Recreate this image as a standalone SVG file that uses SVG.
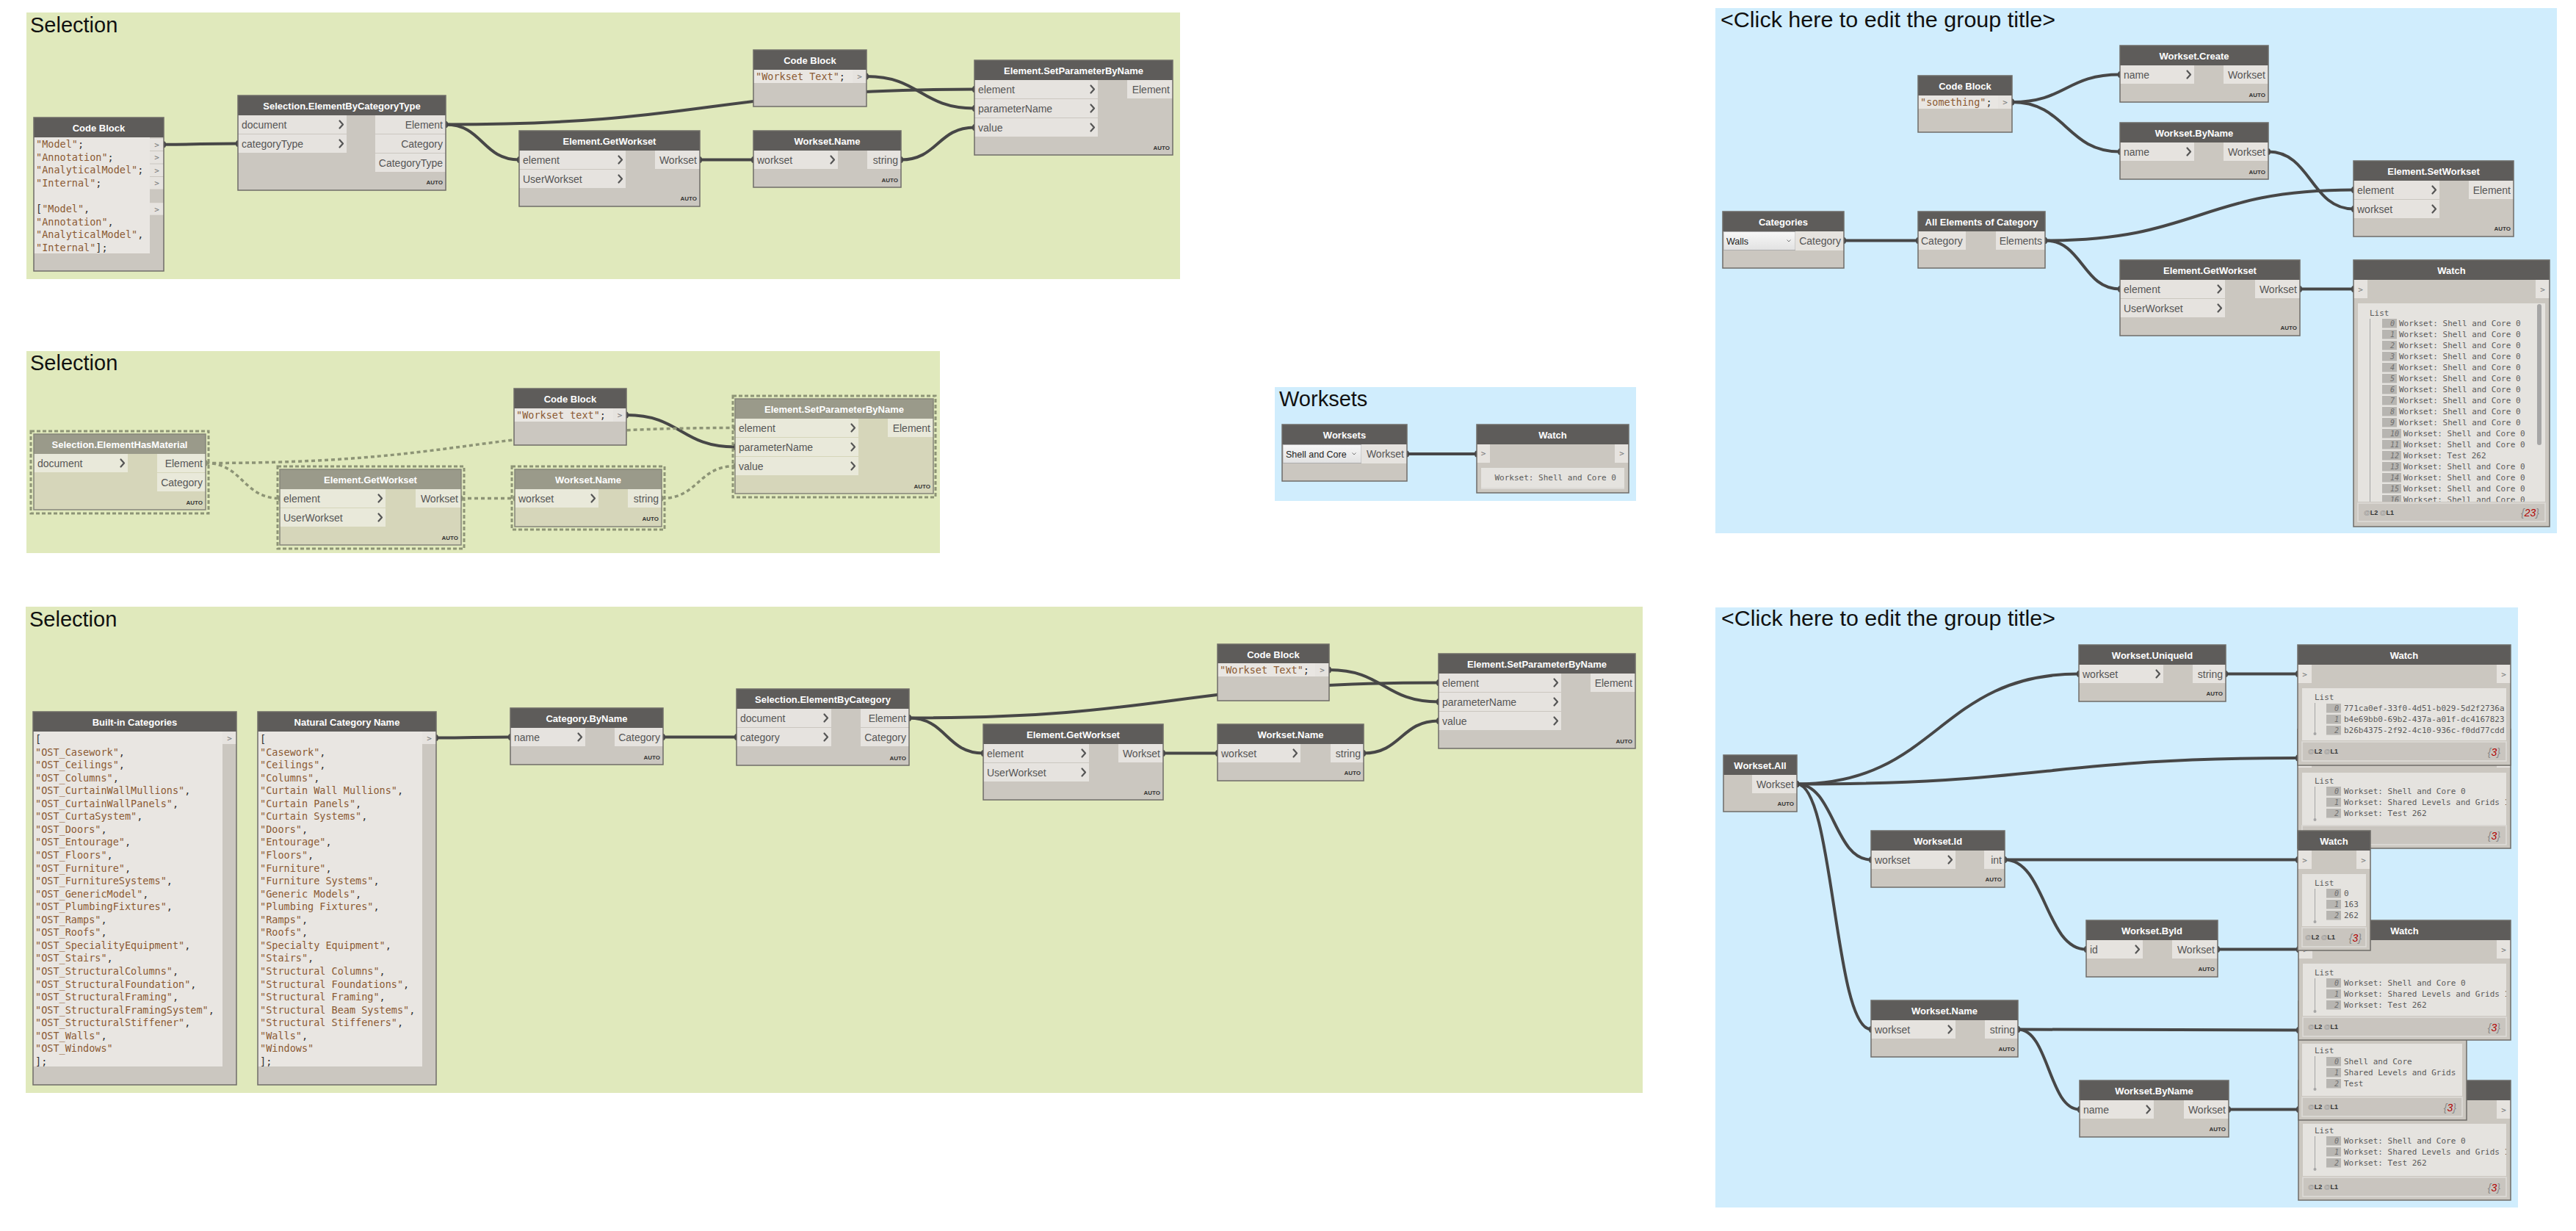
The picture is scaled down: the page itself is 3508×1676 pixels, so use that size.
<svg xmlns="http://www.w3.org/2000/svg" width="3508" height="1676" viewBox="0 0 3508 1676">
<defs>
<style>
.grpG{fill:#e0e9bc}
.grpB{fill:#d0edfd}
.gt{font-family:"Liberation Sans",Arial,sans-serif;font-size:29px;fill:#111}
.nb{fill:#cbc7c0}
.nh{fill:#5e5c5a}
.no{fill:none;stroke:#6f6c68;stroke-width:1.5}
.pc{fill:#e6e3df}
.ca{fill:#e9e6e2}
.gnb{fill:#d6d6ba}
.gnh{fill:#9a9a8a}
.gpc{fill:#e9e9da}
.gno{fill:none;stroke:#85857a;stroke-width:1.5}
.sel{fill:none;stroke:#8d9476;stroke-width:3;stroke-dasharray:5 3}
.tt{font-family:"Liberation Sans",Arial,sans-serif;font-size:13px;font-weight:bold;fill:#fff;text-anchor:middle}
.pl{font-family:"Liberation Sans",Arial,sans-serif;font-size:14px;fill:#555}
.pr{font-family:"Liberation Sans",Arial,sans-serif;font-size:14px;fill:#555;text-anchor:end}
.au{font-family:"Liberation Sans",Arial,sans-serif;font-size:8px;font-weight:bold;fill:#333;text-anchor:end}
.chev{fill:none;stroke:#555;stroke-width:2.2;stroke-linejoin:round;stroke-linecap:round}
.dch{fill:none;stroke:#777;stroke-width:1}
.cd{font-family:"DejaVu Sans Mono","Liberation Mono",monospace;font-size:13.5px;fill:#333}
.s{fill:#8b5a33}
.gtl{font-family:"DejaVu Sans Mono","Liberation Mono",monospace;font-size:11px;fill:#777;text-anchor:middle}
.w{fill:none;stroke:#474747;stroke-width:4;marker-start:url(#pe);marker-end:url(#pe)}
.wd{fill:none;stroke:#8d9476;stroke-width:3.5;stroke-dasharray:5 4;marker-start:url(#pd);marker-end:url(#pd)}
.wv{font-family:"DejaVu Sans Mono","Liberation Mono",monospace;font-size:11px;fill:#5a5a5a}
.ib{fill:#b7b5b1}
.ix{font-family:"DejaVu Sans Mono","Liberation Mono",monospace;font-size:10px;font-style:italic;fill:#6f6f6f;text-anchor:end}
.wc{fill:#e5e3df}
.ft{fill:#c9c5bf;stroke:#dedcd8;stroke-width:1.5}
.lt{stroke:#a5a5a5;stroke-width:1}
.lv{font-family:"Liberation Sans",Arial,sans-serif;font-size:9px;font-weight:bold;fill:#333}
.cnt{font-family:"Liberation Sans",Arial,sans-serif;font-size:14px;font-style:italic;fill:#888;text-anchor:end}
.red{fill:#b00000}
.at{fill:#9a9a9a}
.dd{fill:url(#ddg);stroke:#adadad;stroke-width:1}
.ddt{font-family:"Liberation Sans",Arial,sans-serif;font-size:12.5px;fill:#222}
</style>
<linearGradient id="ddg" x1="0" y1="0" x2="0" y2="1"><stop offset="0" stop-color="#f7f7f7"/><stop offset="1" stop-color="#e2e2e2"/></linearGradient>
<marker id="pe" viewBox="-5 -5 10 10" refX="0" refY="0" markerWidth="10" markerHeight="10" markerUnits="userSpaceOnUse" orient="0"><ellipse rx="3" ry="4.5" fill="#474747"/></marker>
<marker id="pd" viewBox="-5 -5 10 10" refX="0" refY="0" markerWidth="10" markerHeight="10" markerUnits="userSpaceOnUse" orient="0"><ellipse rx="2.5" ry="4" fill="#8d9476"/></marker>
<clipPath id="cTR"><rect x="3211" y="413" width="255" height="270"/></clipPath>
<clipPath id="c1"><rect x="3135" y="937" width="278" height="71"/></clipPath>
<clipPath id="c2"><rect x="3135" y="1052" width="278" height="71"/></clipPath>
<clipPath id="c4"><rect x="3136" y="1312" width="277" height="71"/></clipPath>
<clipPath id="c6"><rect x="3136" y="1530" width="277" height="71"/></clipPath>
</defs>

<g id="groups">
<rect class="grpG" x="36" y="17" width="1571" height="363"/>
<text class="gt" x="41" y="44">Selection</text>
<rect class="grpG" x="36" y="478" width="1244" height="275"/>
<text class="gt" x="41" y="504">Selection</text>
<rect class="grpB" x="1736" y="527" width="492" height="155"/>
<text class="gt" x="1742" y="553">Worksets</text>
<rect class="grpB" x="2336" y="11" width="1146" height="715"/>
<text class="gt" x="2343" y="37" font-size="30" textLength="456" lengthAdjust="spacingAndGlyphs">&lt;Click here to edit the group title&gt;</text>
<rect class="grpG" x="35" y="826" width="2202" height="662"/>
<text class="gt" x="40" y="853">Selection</text>
<rect class="grpB" x="2336" y="827" width="1093" height="817"/>
<text class="gt" x="2344" y="852" font-size="30" textLength="455" lengthAdjust="spacingAndGlyphs">&lt;Click here to edit the group title&gt;</text>
</g>

<g id="connectors">
<path class="w" d="M223 196.7 C273.5 196.7 273.5 195.5 324 195.5"/>
<path class="w" d="M607 169.5 C967 169.5 967 121.5 1327 121.5"/>
<path class="w" d="M607 169.5 C657 169.5 657 217.5 707 217.5"/>
<path class="w" d="M1180 104 C1253.5 104 1253.5 147.5 1327 147.5"/>
<path class="w" d="M953 217.5 L1026 217.5"/>
<path class="w" d="M1227 217.5 C1277 217.5 1277 173.5 1327 173.5"/>

<path class="w" d="M853 565 C927 565 927 608.5 1001 608.5"/>
<path class="wd" d="M280 630.5 C640.5 630.5 640.5 582.5 1001 582.5"/>
<path class="wd" d="M280 630.5 C330.5 630.5 330.5 678.5 381 678.5"/>
<path class="wd" d="M628 678.5 L701 678.5"/>
<path class="wd" d="M901 678.5 C951 678.5 951 634.5 1001 634.5"/>

<path class="w" d="M1916 618 L2011 618"/>

<path class="w" d="M2740 139 C2813.5 139 2813.5 101.5 2887 101.5"/>
<path class="w" d="M2740 139 C2813.5 139 2813.5 206.5 2887 206.5"/>
<path class="w" d="M3089 206.5 C3147 206.5 3147 284.5 3205 284.5"/>
<path class="w" d="M2511 327.5 L2612 327.5"/>
<path class="w" d="M2785 327.5 C2995 327.5 2995 258.5 3205 258.5"/>
<path class="w" d="M2785 327.5 C2836 327.5 2836 393.5 2887 393.5"/>
<path class="w" d="M3132 393.5 L3205 393.5"/>

<path class="w" d="M594 1004.5 C644.5 1004.5 644.5 1003.5 695 1003.5"/>
<path class="w" d="M903 1003.5 L1003 1003.5"/>
<path class="w" d="M1238 977.5 C1598.5 977.5 1598.5 929.5 1959 929.5"/>
<path class="w" d="M1238 977.5 C1288.5 977.5 1288.5 1025.5 1339 1025.5"/>
<path class="w" d="M1810 912 C1884.5 912 1884.5 955.5 1959 955.5"/>
<path class="w" d="M1584 1025.5 L1658 1025.5"/>
<path class="w" d="M1857 1025.5 C1908 1025.5 1908 981.5 1959 981.5"/>

<path class="w" d="M2447 1067.5 C2639 1067.5 2639 917.5 2831 917.5"/>
<path class="w" d="M2447 1067.5 C2788 1067.5 2788 1032 3129 1032"/>
<path class="w" d="M2447 1067.5 C2497.5 1067.5 2497.5 1170.5 2548 1170.5"/>
<path class="w" d="M2447 1067.5 C2497.5 1067.5 2497.5 1401.5 2548 1401.5"/>
<path class="w" d="M3031 917.5 L3129 917.5"/>
<path class="w" d="M2730 1170.5 L3129 1170.5"/>
<path class="w" d="M2730 1170.5 C2785.5 1170.5 2785.5 1292.5 2841 1292.5"/>
<path class="w" d="M3020 1292.5 L3130 1292.5"/>
<path class="w" d="M2748 1401.5 L3130 1402.5"/>
<path class="w" d="M2748 1401.5 C2790 1401.5 2790 1510.5 2832 1510.5"/>
<path class="w" d="M3035 1510.5 L3130 1510.5"/>
</g>

<!-- ===== Group 1 ===== -->
<g id="g1-codeblock-list">
<rect class="nb" x="46" y="160" width="177" height="209"/>
<rect class="nh" x="46" y="160" width="177" height="27"/>
<text class="tt" x="134.5" y="178.5">Code Block</text>
<rect class="ca" x="46" y="187" width="158" height="158"/>
<rect class="pc" x="204" y="188.5" width="19" height="16.5"/><text class="gtl" x="213.5" y="200.7">&gt;</text>
<rect class="pc" x="204" y="206" width="19" height="16.5"/><text class="gtl" x="213.5" y="218.3">&gt;</text>
<rect class="pc" x="204" y="223.5" width="19" height="16.5"/><text class="gtl" x="213.5" y="235.8">&gt;</text>
<rect class="pc" x="204" y="241" width="19" height="16.5"/><text class="gtl" x="213.5" y="253.4">&gt;</text>
<rect class="pc" x="204" y="276.2" width="19" height="16.5"/><text class="gtl" x="213.5" y="288.5">&gt;</text>
<text class="cd" x="49" y="201.2"><tspan class="s">"Model"</tspan>;</text>
<text class="cd" x="49" y="218.8"><tspan class="s">"Annotation"</tspan>;</text>
<text class="cd" x="49" y="236.3"><tspan class="s">"AnalyticalModel"</tspan>;</text>
<text class="cd" x="49" y="253.9"><tspan class="s">"Internal"</tspan>;</text>
<text class="cd" x="49" y="289">[<tspan class="s">"Model"</tspan>,</text>
<text class="cd" x="49" y="306.5"><tspan class="s">"Annotation"</tspan>,</text>
<text class="cd" x="49" y="324.1"><tspan class="s">"AnalyticalModel"</tspan>,</text>
<text class="cd" x="49" y="341.6"><tspan class="s">"Internal"</tspan>];</text>
<rect class="no" x="46" y="160" width="177" height="209"/>
</g>

<g id="g1-selection-elementbycategorytype">
<rect class="nb" x="324" y="130" width="283" height="129"/>
<rect class="nh" x="324" y="130" width="283" height="27"/>
<text class="tt" x="465.5" y="148.5">Selection.ElementByCategoryType</text>
<rect class="pc" x="324" y="157" width="148" height="25"/><text class="pl" x="329" y="174.5">document</text><path class="chev" d="M462.5 164.5 l4.5 5 l-4.5 5"/>
<rect class="pc" x="324" y="183" width="148" height="25"/><text class="pl" x="329" y="200.5">categoryType</text><path class="chev" d="M462.5 190.5 l4.5 5 l-4.5 5"/>
<rect class="pc" x="511" y="157" width="96" height="25"/><text class="pr" x="603" y="174.5">Element</text>
<rect class="pc" x="511" y="183" width="96" height="25"/><text class="pr" x="603" y="200.5">Category</text>
<rect class="pc" x="511" y="209" width="96" height="25"/><text class="pr" x="603" y="226.5">CategoryType</text>
<text class="au" x="603" y="251">AUTO</text>
<rect class="no" x="324" y="130" width="283" height="129"/>
</g>

<g id="g1-element-getworkset">
<rect class="nb" x="707" y="178" width="246" height="103"/>
<rect class="nh" x="707" y="178" width="246" height="27"/>
<text class="tt" x="830" y="196.5">Element.GetWorkset</text>
<rect class="pc" x="707" y="205" width="145" height="25"/><text class="pl" x="712" y="222.5">element</text><path class="chev" d="M842.5 212.5 l4.5 5 l-4.5 5"/>
<rect class="pc" x="707" y="231" width="145" height="25"/><text class="pl" x="712" y="248.5">UserWorkset</text><path class="chev" d="M842.5 238.5 l4.5 5 l-4.5 5"/>
<rect class="pc" x="892" y="205" width="61" height="25"/><text class="pr" x="949" y="222.5">Workset</text>
<text class="au" x="949" y="273">AUTO</text>
<rect class="no" x="707" y="178" width="246" height="103"/>
</g>

<g id="g1-codeblock-text">
<rect class="nb" x="1026" y="68" width="154" height="77"/>
<rect class="nh" x="1026" y="68" width="154" height="27"/>
<text class="tt" x="1103" y="86.5">Code Block</text>
<rect class="ca" x="1026" y="95" width="135" height="18"/>
<rect class="pc" x="1161" y="95" width="19" height="18"/><text class="gtl" x="1170.5" y="108">&gt;</text>
<text class="cd" x="1029" y="109"><tspan class="s">"Workset Text"</tspan>;</text>
<rect class="no" x="1026" y="68" width="154" height="77"/>
</g>

<g id="g1-workset-name">
<rect class="nb" x="1026" y="178" width="201" height="77"/>
<rect class="nh" x="1026" y="178" width="201" height="27"/>
<text class="tt" x="1126.5" y="196.5">Workset.Name</text>
<rect class="pc" x="1026" y="205" width="115" height="25"/><text class="pl" x="1031" y="222.5">workset</text><path class="chev" d="M1131.5 212.5 l4.5 5 l-4.5 5"/>
<rect class="pc" x="1181" y="205" width="46" height="25"/><text class="pr" x="1223" y="222.5">string</text>
<text class="au" x="1223" y="248">AUTO</text>
<rect class="no" x="1026" y="178" width="201" height="77"/>
</g>

<g id="g1-element-setparameterbyname">
<rect class="nb" x="1327" y="82" width="270" height="129"/>
<rect class="nh" x="1327" y="82" width="270" height="27"/>
<text class="tt" x="1462" y="100.5">Element.SetParameterByName</text>
<rect class="pc" x="1327" y="109" width="168" height="25"/><text class="pl" x="1332" y="126.5">element</text><path class="chev" d="M1485.5 116.5 l4.5 5 l-4.5 5"/>
<rect class="pc" x="1327" y="135" width="168" height="25"/><text class="pl" x="1332" y="152.5">parameterName</text><path class="chev" d="M1485.5 142.5 l4.5 5 l-4.5 5"/>
<rect class="pc" x="1327" y="161" width="168" height="25"/><text class="pl" x="1332" y="178.5">value</text><path class="chev" d="M1485.5 168.5 l4.5 5 l-4.5 5"/>
<rect class="pc" x="1535" y="109" width="62" height="25"/><text class="pr" x="1593" y="126.5">Element</text>
<text class="au" x="1593" y="204">AUTO</text>
<rect class="no" x="1327" y="82" width="270" height="129"/>
</g>

<!-- ===== Group 2 (frozen) ===== -->
<g id="g2-selection-elementhasmaterial">
<rect class="sel" x="42" y="587" width="242" height="112"/>
<rect class="gnb" x="46" y="591" width="234" height="103"/>
<rect class="gnh" x="46" y="591" width="234" height="27"/>
<text class="tt" x="163" y="609.5">Selection.ElementHasMaterial</text>
<rect class="gpc" x="46" y="618" width="128" height="25"/><text class="pl" x="51" y="635.5">document</text><path class="chev" d="M164.5 625.5 l4.5 5 l-4.5 5"/>
<rect class="gpc" x="214" y="618" width="66" height="25"/><text class="pr" x="276" y="635.5">Element</text>
<rect class="gpc" x="214" y="644" width="66" height="25"/><text class="pr" x="276" y="661.5">Category</text>
<text class="au" x="276" y="687">AUTO</text>
<rect class="gno" x="46" y="591" width="234" height="103"/>
</g>

<g id="g2-element-getworkset">
<rect class="sel" x="378" y="635" width="254" height="112"/>
<rect class="gnb" x="381" y="639" width="247" height="103"/>
<rect class="gnh" x="381" y="639" width="247" height="27"/>
<text class="tt" x="504.5" y="657.5">Element.GetWorkset</text>
<rect class="gpc" x="381" y="666" width="144" height="25"/><text class="pl" x="386" y="683.5">element</text><path class="chev" d="M515.5 673.5 l4.5 5 l-4.5 5"/>
<rect class="gpc" x="381" y="692" width="144" height="25"/><text class="pl" x="386" y="709.5">UserWorkset</text><path class="chev" d="M515.5 699.5 l4.5 5 l-4.5 5"/>
<rect class="gpc" x="566" y="666" width="62" height="25"/><text class="pr" x="624" y="683.5">Workset</text>
<text class="au" x="624" y="735">AUTO</text>
<rect class="gno" x="381" y="639" width="247" height="103"/>
</g>

<g id="g2-codeblock-text">
<rect class="nb" x="700" y="529" width="153" height="77"/>
<rect class="nh" x="700" y="529" width="153" height="27"/>
<text class="tt" x="776.5" y="547.5">Code Block</text>
<rect class="ca" x="700" y="556" width="135" height="18"/>
<rect class="pc" x="835" y="556" width="18" height="18"/><text class="gtl" x="844" y="569">&gt;</text>
<text class="cd" x="703" y="570"><tspan class="s">"Workset text"</tspan>;</text>
<rect class="no" x="700" y="529" width="153" height="77"/>
</g>

<g id="g2-workset-name">
<rect class="sel" x="697" y="635" width="208" height="86"/>
<rect class="gnb" x="701" y="639" width="200" height="78"/>
<rect class="gnh" x="701" y="639" width="200" height="27"/>
<text class="tt" x="801" y="657.5">Workset.Name</text>
<rect class="gpc" x="701" y="666" width="114" height="25"/><text class="pl" x="706" y="683.5">workset</text><path class="chev" d="M805.5 673.5 l4.5 5 l-4.5 5"/>
<rect class="gpc" x="855" y="666" width="46" height="25"/><text class="pr" x="897" y="683.5">string</text>
<text class="au" x="897" y="709">AUTO</text>
<rect class="gno" x="701" y="639" width="200" height="78"/>
</g>

<g id="g2-element-setparameterbyname">
<rect class="sel" x="998" y="539" width="276" height="138"/>
<rect class="gnb" x="1001" y="543" width="270" height="129"/>
<rect class="gnh" x="1001" y="543" width="270" height="27"/>
<text class="tt" x="1136" y="561.5">Element.SetParameterByName</text>
<rect class="gpc" x="1001" y="570" width="168" height="25"/><text class="pl" x="1006" y="587.5">element</text><path class="chev" d="M1159.5 577.5 l4.5 5 l-4.5 5"/>
<rect class="gpc" x="1001" y="596" width="168" height="25"/><text class="pl" x="1006" y="613.5">parameterName</text><path class="chev" d="M1159.5 603.5 l4.5 5 l-4.5 5"/>
<rect class="gpc" x="1001" y="622" width="168" height="25"/><text class="pl" x="1006" y="639.5">value</text><path class="chev" d="M1159.5 629.5 l4.5 5 l-4.5 5"/>
<rect class="gpc" x="1209" y="570" width="62" height="25"/><text class="pr" x="1267" y="587.5">Element</text>
<text class="au" x="1267" y="665">AUTO</text>
<rect class="gno" x="1001" y="543" width="270" height="129"/>
</g>

<!-- ===== Worksets group ===== -->
<g id="ws-worksets">
<rect class="nb" x="1746" y="578" width="170" height="77"/>
<rect class="nh" x="1746" y="578" width="170" height="27"/>
<text class="tt" x="1831" y="596.5">Worksets</text>
<rect class="dd" x="1747" y="605.5" width="107" height="25"/>
<text class="ddt" x="1751" y="622.5">Shell and Core</text>
<path class="dch" d="M1841.5 616.5 l2.5 2.5 l2.5 -2.5"/>
<rect class="pc" x="1854" y="605" width="62" height="26"/><text class="pr" x="1912" y="622.5">Workset</text>
<rect class="no" x="1746" y="578" width="170" height="77"/>
</g>

<g id="ws-watch">
<rect class="nb" x="2011" y="578" width="207" height="93"/>
<rect class="nh" x="2011" y="578" width="207" height="27"/>
<text class="tt" x="2114.5" y="596.5">Watch</text>
<rect class="pc" x="2011" y="605" width="18" height="25"/><text class="gtl" x="2020" y="621">&gt;</text>
<rect class="pc" x="2199" y="605" width="19" height="25"/><text class="gtl" x="2208.5" y="621">&gt;</text>
<rect class="wc" x="2017" y="637" width="195" height="27"/>
<rect x="2017" y="664" width="195" height="2" fill="#dcdad6"/>
<text class="wv" x="2201" y="654" text-anchor="end">Workset: Shell and Core 0</text>
<rect class="no" x="2011" y="578" width="207" height="93"/>
</g>

<!-- ===== Top-right group ===== -->
<g id="tr-codeblock">
<rect class="nb" x="2612" y="103" width="128" height="77"/>
<rect class="nh" x="2612" y="103" width="128" height="27"/>
<text class="tt" x="2676" y="121.5">Code Block</text>
<rect class="ca" x="2612" y="130" width="109" height="18"/>
<rect class="pc" x="2721" y="130" width="19" height="18"/><text class="gtl" x="2730.5" y="143">&gt;</text>
<text class="cd" x="2615" y="144"><tspan class="s">"something"</tspan>;</text>
<rect class="no" x="2612" y="103" width="128" height="77"/>
</g>

<g id="tr-workset-create">
<rect class="nb" x="2887" y="62" width="202" height="77"/>
<rect class="nh" x="2887" y="62" width="202" height="27"/>
<text class="tt" x="2988" y="80.5">Workset.Create</text>
<rect class="pc" x="2887" y="89" width="101" height="25"/><text class="pl" x="2892" y="106.5">name</text><path class="chev" d="M2978.5 96.5 l4.5 5 l-4.5 5"/>
<rect class="pc" x="3028" y="89" width="61" height="25"/><text class="pr" x="3085" y="106.5">Workset</text>
<text class="au" x="3085" y="132">AUTO</text>
<rect class="no" x="2887" y="62" width="202" height="77"/>
</g>

<g id="tr-workset-byname">
<rect class="nb" x="2887" y="167" width="202" height="77"/>
<rect class="nh" x="2887" y="167" width="202" height="27"/>
<text class="tt" x="2988" y="185.5">Workset.ByName</text>
<rect class="pc" x="2887" y="194" width="101" height="25"/><text class="pl" x="2892" y="211.5">name</text><path class="chev" d="M2978.5 201.5 l4.5 5 l-4.5 5"/>
<rect class="pc" x="3028" y="194" width="61" height="25"/><text class="pr" x="3085" y="211.5">Workset</text>
<text class="au" x="3085" y="237">AUTO</text>
<rect class="no" x="2887" y="167" width="202" height="77"/>
</g>

<g id="tr-categories">
<rect class="nb" x="2346" y="288" width="165" height="77"/>
<rect class="nh" x="2346" y="288" width="165" height="27"/>
<text class="tt" x="2428.5" y="306.5">Categories</text>
<rect class="dd" x="2347" y="315.5" width="98" height="25"/>
<text class="ddt" x="2351" y="332.5">Walls</text>
<path class="dch" d="M2433.5 326.5 l2.5 2.5 l2.5 -2.5"/>
<rect class="pc" x="2445" y="315" width="66" height="26"/><text class="pr" x="2507" y="332.5">Category</text>
<rect class="no" x="2346" y="288" width="165" height="77"/>
</g>

<g id="tr-all-elements-of-category">
<rect class="nb" x="2612" y="288" width="173" height="77"/>
<rect class="nh" x="2612" y="288" width="173" height="27"/>
<text class="tt" x="2698.5" y="306.5">All Elements of Category</text>
<rect class="pc" x="2612" y="315" width="65" height="25"/><text class="pl" x="2616" y="332.5">Category</text>
<rect class="pc" x="2718" y="315" width="67" height="25"/><text class="pr" x="2781" y="332.5">Elements</text>
<rect class="no" x="2612" y="288" width="173" height="77"/>
</g>

<g id="tr-element-getworkset">
<rect class="nb" x="2887" y="354" width="245" height="103"/>
<rect class="nh" x="2887" y="354" width="245" height="27"/>
<text class="tt" x="3009.5" y="372.5">Element.GetWorkset</text>
<rect class="pc" x="2887" y="381" width="143" height="25"/><text class="pl" x="2892" y="398.5">element</text><path class="chev" d="M3020.5 388.5 l4.5 5 l-4.5 5"/>
<rect class="pc" x="2887" y="407" width="143" height="25"/><text class="pl" x="2892" y="424.5">UserWorkset</text><path class="chev" d="M3020.5 414.5 l4.5 5 l-4.5 5"/>
<rect class="pc" x="3071" y="381" width="61" height="25"/><text class="pr" x="3128" y="398.5">Workset</text>
<text class="au" x="3128" y="449">AUTO</text>
<rect class="no" x="2887" y="354" width="245" height="103"/>
</g>

<g id="tr-element-setworkset">
<rect class="nb" x="3205" y="219" width="218" height="103"/>
<rect class="nh" x="3205" y="219" width="218" height="27"/>
<text class="tt" x="3314" y="237.5">Element.SetWorkset</text>
<rect class="pc" x="3205" y="246" width="117" height="25"/><text class="pl" x="3210" y="263.5">element</text><path class="chev" d="M3312.5 253.5 l4.5 5 l-4.5 5"/>
<rect class="pc" x="3205" y="272" width="117" height="25"/><text class="pl" x="3210" y="289.5">workset</text><path class="chev" d="M3312.5 279.5 l4.5 5 l-4.5 5"/>
<rect class="pc" x="3362" y="246" width="61" height="25"/><text class="pr" x="3419" y="263.5">Element</text>
<text class="au" x="3419" y="314">AUTO</text>
<rect class="no" x="3205" y="219" width="218" height="103"/>
</g>

<g id="tr-watch">
<rect class="nb" x="3205" y="354" width="267" height="363"/>
<rect class="nh" x="3205" y="354" width="267" height="27"/>
<text class="tt" x="3338.5" y="372.5">Watch</text>
<rect class="pc" x="3205" y="381" width="19" height="25"/><text class="gtl" x="3214.5" y="397.5">&gt;</text>
<rect class="pc" x="3453" y="381" width="19" height="25"/><text class="gtl" x="3462.5" y="397.5">&gt;</text>
<rect class="wc" x="3211" y="413" width="255" height="270"/>
<g clip-path="url(#cTR)">
<text class="wv" x="3227" y="430">List</text>
<line class="lt" x1="3227.5" y1="434" x2="3227.5" y2="690"/>
<rect class="ib" x="3244" y="434" width="20" height="12.5"/><text class="ix" x="3261" y="444">0</text><text class="wv" x="3267" y="444">Workset: Shell and Core 0</text>
<rect class="ib" x="3244" y="449" width="20" height="12.5"/><text class="ix" x="3261" y="459">1</text><text class="wv" x="3267" y="459">Workset: Shell and Core 0</text>
<rect class="ib" x="3244" y="464" width="20" height="12.5"/><text class="ix" x="3261" y="474">2</text><text class="wv" x="3267" y="474">Workset: Shell and Core 0</text>
<rect class="ib" x="3244" y="479" width="20" height="12.5"/><text class="ix" x="3261" y="489">3</text><text class="wv" x="3267" y="489">Workset: Shell and Core 0</text>
<rect class="ib" x="3244" y="494" width="20" height="12.5"/><text class="ix" x="3261" y="504">4</text><text class="wv" x="3267" y="504">Workset: Shell and Core 0</text>
<rect class="ib" x="3244" y="509" width="20" height="12.5"/><text class="ix" x="3261" y="519">5</text><text class="wv" x="3267" y="519">Workset: Shell and Core 0</text>
<rect class="ib" x="3244" y="524" width="20" height="12.5"/><text class="ix" x="3261" y="534">6</text><text class="wv" x="3267" y="534">Workset: Shell and Core 0</text>
<rect class="ib" x="3244" y="539" width="20" height="12.5"/><text class="ix" x="3261" y="549">7</text><text class="wv" x="3267" y="549">Workset: Shell and Core 0</text>
<rect class="ib" x="3244" y="554" width="20" height="12.5"/><text class="ix" x="3261" y="564">8</text><text class="wv" x="3267" y="564">Workset: Shell and Core 0</text>
<rect class="ib" x="3244" y="569" width="20" height="12.5"/><text class="ix" x="3261" y="579">9</text><text class="wv" x="3267" y="579">Workset: Shell and Core 0</text>
<rect class="ib" x="3244" y="584" width="26" height="12.5"/><text class="ix" x="3267" y="594">10</text><text class="wv" x="3273" y="594">Workset: Shell and Core 0</text>
<rect class="ib" x="3244" y="599" width="26" height="12.5"/><text class="ix" x="3267" y="609">11</text><text class="wv" x="3273" y="609">Workset: Shell and Core 0</text>
<rect class="ib" x="3244" y="614" width="26" height="12.5"/><text class="ix" x="3267" y="624">12</text><text class="wv" x="3273" y="624">Workset: Test 262</text>
<rect class="ib" x="3244" y="629" width="26" height="12.5"/><text class="ix" x="3267" y="639">13</text><text class="wv" x="3273" y="639">Workset: Shell and Core 0</text>
<rect class="ib" x="3244" y="644" width="26" height="12.5"/><text class="ix" x="3267" y="654">14</text><text class="wv" x="3273" y="654">Workset: Shell and Core 0</text>
<rect class="ib" x="3244" y="659" width="26" height="12.5"/><text class="ix" x="3267" y="669">15</text><text class="wv" x="3273" y="669">Workset: Shell and Core 0</text>
<rect class="ib" x="3244" y="674" width="26" height="12.5"/><text class="ix" x="3267" y="684">16</text><text class="wv" x="3273" y="684">Workset: Shell and Core 0</text>
</g>
<rect x="3455" y="414" width="6" height="192" rx="3" fill="#a6a6a6"/>
<rect class="ft" x="3211" y="685" width="255" height="25"/>
<text class="lv" x="3219" y="701"><tspan class="at">@</tspan>L2 <tspan class="at">@</tspan>L1</text>
<text class="cnt" x="3458" y="703">{<tspan class="red">23</tspan>}</text>
<rect class="no" x="3205" y="354" width="267" height="363"/>
</g>

<!-- ===== Bottom-left group ===== -->
<g id="bl-builtin-categories">
<rect class="nb" x="45" y="969" width="277" height="508"/>
<rect class="nh" x="45" y="969" width="277" height="27"/>
<text class="tt" x="183.5" y="987.5">Built-in Categories</text>
<rect class="ca" x="45" y="996" width="258" height="456"/>
<rect class="pc" x="303" y="996" width="19" height="17"/><text class="gtl" x="312.5" y="1009">&gt;</text>
<text class="cd" x="48" y="1011">[</text>
<text class="cd" x="48" y="1028.5"><tspan class="s">"OST_Casework"</tspan>,</text>
<text class="cd" x="48" y="1046.1"><tspan class="s">"OST_Ceilings"</tspan>,</text>
<text class="cd" x="48" y="1063.6"><tspan class="s">"OST_Columns"</tspan>,</text>
<text class="cd" x="48" y="1081.2"><tspan class="s">"OST_CurtainWallMullions"</tspan>,</text>
<text class="cd" x="48" y="1098.7"><tspan class="s">"OST_CurtainWallPanels"</tspan>,</text>
<text class="cd" x="48" y="1116.3"><tspan class="s">"OST_CurtaSystem"</tspan>,</text>
<text class="cd" x="48" y="1133.8"><tspan class="s">"OST_Doors"</tspan>,</text>
<text class="cd" x="48" y="1151.4"><tspan class="s">"OST_Entourage"</tspan>,</text>
<text class="cd" x="48" y="1169"><tspan class="s">"OST_Floors"</tspan>,</text>
<text class="cd" x="48" y="1186.5"><tspan class="s">"OST_Furniture"</tspan>,</text>
<text class="cd" x="48" y="1204"><tspan class="s">"OST_FurnitureSystems"</tspan>,</text>
<text class="cd" x="48" y="1221.6"><tspan class="s">"OST_GenericModel"</tspan>,</text>
<text class="cd" x="48" y="1239.2"><tspan class="s">"OST_PlumbingFixtures"</tspan>,</text>
<text class="cd" x="48" y="1256.7"><tspan class="s">"OST_Ramps"</tspan>,</text>
<text class="cd" x="48" y="1274.3"><tspan class="s">"OST_Roofs"</tspan>,</text>
<text class="cd" x="48" y="1291.8"><tspan class="s">"OST_SpecialityEquipment"</tspan>,</text>
<text class="cd" x="48" y="1309.4"><tspan class="s">"OST_Stairs"</tspan>,</text>
<text class="cd" x="48" y="1326.9"><tspan class="s">"OST_StructuralColumns"</tspan>,</text>
<text class="cd" x="48" y="1344.5"><tspan class="s">"OST_StructuralFoundation"</tspan>,</text>
<text class="cd" x="48" y="1362"><tspan class="s">"OST_StructuralFraming"</tspan>,</text>
<text class="cd" x="48" y="1379.6"><tspan class="s">"OST_StructuralFramingSystem"</tspan>,</text>
<text class="cd" x="48" y="1397.1"><tspan class="s">"OST_StructuralStiffener"</tspan>,</text>
<text class="cd" x="48" y="1414.7"><tspan class="s">"OST_Walls"</tspan>,</text>
<text class="cd" x="48" y="1432.2"><tspan class="s">"OST_Windows"</tspan></text>
<text class="cd" x="48" y="1449.8">];</text>
<rect class="no" x="45" y="969" width="277" height="508"/>
</g>

<g id="bl-natural-category-name">
<rect class="nb" x="351" y="969" width="243" height="508"/>
<rect class="nh" x="351" y="969" width="243" height="27"/>
<text class="tt" x="472.5" y="987.5">Natural Category Name</text>
<rect class="ca" x="351" y="996" width="224" height="456"/>
<rect class="pc" x="575" y="996" width="19" height="17"/><text class="gtl" x="584.5" y="1009">&gt;</text>
<text class="cd" x="354" y="1011">[</text>
<text class="cd" x="354" y="1028.5"><tspan class="s">"Casework"</tspan>,</text>
<text class="cd" x="354" y="1046.1"><tspan class="s">"Ceilings"</tspan>,</text>
<text class="cd" x="354" y="1063.6"><tspan class="s">"Columns"</tspan>,</text>
<text class="cd" x="354" y="1081.2"><tspan class="s">"Curtain Wall Mullions"</tspan>,</text>
<text class="cd" x="354" y="1098.7"><tspan class="s">"Curtain Panels"</tspan>,</text>
<text class="cd" x="354" y="1116.3"><tspan class="s">"Curtain Systems"</tspan>,</text>
<text class="cd" x="354" y="1133.8"><tspan class="s">"Doors"</tspan>,</text>
<text class="cd" x="354" y="1151.4"><tspan class="s">"Entourage"</tspan>,</text>
<text class="cd" x="354" y="1169"><tspan class="s">"Floors"</tspan>,</text>
<text class="cd" x="354" y="1186.5"><tspan class="s">"Furniture"</tspan>,</text>
<text class="cd" x="354" y="1204"><tspan class="s">"Furniture Systems"</tspan>,</text>
<text class="cd" x="354" y="1221.6"><tspan class="s">"Generic Models"</tspan>,</text>
<text class="cd" x="354" y="1239.2"><tspan class="s">"Plumbing Fixtures"</tspan>,</text>
<text class="cd" x="354" y="1256.7"><tspan class="s">"Ramps"</tspan>,</text>
<text class="cd" x="354" y="1274.3"><tspan class="s">"Roofs"</tspan>,</text>
<text class="cd" x="354" y="1291.8"><tspan class="s">"Specialty Equipment"</tspan>,</text>
<text class="cd" x="354" y="1309.4"><tspan class="s">"Stairs"</tspan>,</text>
<text class="cd" x="354" y="1326.9"><tspan class="s">"Structural Columns"</tspan>,</text>
<text class="cd" x="354" y="1344.5"><tspan class="s">"Structural Foundations"</tspan>,</text>
<text class="cd" x="354" y="1362"><tspan class="s">"Structural Framing"</tspan>,</text>
<text class="cd" x="354" y="1379.6"><tspan class="s">"Structural Beam Systems"</tspan>,</text>
<text class="cd" x="354" y="1397.1"><tspan class="s">"Structural Stiffeners"</tspan>,</text>
<text class="cd" x="354" y="1414.7"><tspan class="s">"Walls"</tspan>,</text>
<text class="cd" x="354" y="1432.2"><tspan class="s">"Windows"</tspan></text>
<text class="cd" x="354" y="1449.8">];</text>
<rect class="no" x="351" y="969" width="243" height="508"/>
</g>

<g id="bl-category-byname">
<rect class="nb" x="695" y="964" width="208" height="77"/>
<rect class="nh" x="695" y="964" width="208" height="27"/>
<text class="tt" x="799" y="982.5">Category.ByName</text>
<rect class="pc" x="695" y="991" width="102" height="25"/><text class="pl" x="700" y="1008.5">name</text><path class="chev" d="M787.5 998.5 l4.5 5 l-4.5 5"/>
<rect class="pc" x="837" y="991" width="66" height="25"/><text class="pr" x="899" y="1008.5">Category</text>
<text class="au" x="899" y="1034">AUTO</text>
<rect class="no" x="695" y="964" width="208" height="77"/>
</g>

<g id="bl-selection-elementbycategory">
<rect class="nb" x="1003" y="938" width="235" height="104"/>
<rect class="nh" x="1003" y="938" width="235" height="27"/>
<text class="tt" x="1120.5" y="956.5">Selection.ElementByCategory</text>
<rect class="pc" x="1003" y="965" width="129" height="25"/><text class="pl" x="1008" y="982.5">document</text><path class="chev" d="M1122.5 972.5 l4.5 5 l-4.5 5"/>
<rect class="pc" x="1003" y="991" width="129" height="25"/><text class="pl" x="1008" y="1008.5">category</text><path class="chev" d="M1122.5 998.5 l4.5 5 l-4.5 5"/>
<rect class="pc" x="1172" y="965" width="66" height="25"/><text class="pr" x="1234" y="982.5">Element</text>
<rect class="pc" x="1172" y="991" width="66" height="25"/><text class="pr" x="1234" y="1008.5">Category</text>
<text class="au" x="1234" y="1035">AUTO</text>
<rect class="no" x="1003" y="938" width="235" height="104"/>
</g>

<g id="bl-element-getworkset">
<rect class="nb" x="1339" y="986" width="245" height="103"/>
<rect class="nh" x="1339" y="986" width="245" height="27"/>
<text class="tt" x="1461.5" y="1004.5">Element.GetWorkset</text>
<rect class="pc" x="1339" y="1013" width="144" height="25"/><text class="pl" x="1344" y="1030.5">element</text><path class="chev" d="M1473.5 1020.5 l4.5 5 l-4.5 5"/>
<rect class="pc" x="1339" y="1039" width="144" height="25"/><text class="pl" x="1344" y="1056.5">UserWorkset</text><path class="chev" d="M1473.5 1046.5 l4.5 5 l-4.5 5"/>
<rect class="pc" x="1523" y="1013" width="61" height="25"/><text class="pr" x="1580" y="1030.5">Workset</text>
<text class="au" x="1580" y="1082">AUTO</text>
<rect class="no" x="1339" y="986" width="245" height="103"/>
</g>

<g id="bl-codeblock-text">
<rect class="nb" x="1658" y="877" width="152" height="77"/>
<rect class="nh" x="1658" y="877" width="152" height="27"/>
<text class="tt" x="1734" y="895.5">Code Block</text>
<rect class="ca" x="1658" y="903" width="133" height="18"/>
<rect class="pc" x="1791" y="903" width="19" height="18"/><text class="gtl" x="1800.5" y="916">&gt;</text>
<text class="cd" x="1661" y="917"><tspan class="s">"Workset Text"</tspan>;</text>
<rect class="no" x="1658" y="877" width="152" height="77"/>
</g>

<g id="bl-workset-name">
<rect class="nb" x="1658" y="986" width="199" height="77"/>
<rect class="nh" x="1658" y="986" width="199" height="27"/>
<text class="tt" x="1757.5" y="1004.5">Workset.Name</text>
<rect class="pc" x="1658" y="1013" width="113" height="25"/><text class="pl" x="1663" y="1030.5">workset</text><path class="chev" d="M1761.5 1020.5 l4.5 5 l-4.5 5"/>
<rect class="pc" x="1812" y="1013" width="45" height="25"/><text class="pr" x="1853" y="1030.5">string</text>
<text class="au" x="1853" y="1055">AUTO</text>
<rect class="no" x="1658" y="986" width="199" height="77"/>
</g>

<g id="bl-element-setparameterbyname">
<rect class="nb" x="1959" y="890" width="268" height="129"/>
<rect class="nh" x="1959" y="890" width="268" height="27"/>
<text class="tt" x="2093" y="908.5">Element.SetParameterByName</text>
<rect class="pc" x="1959" y="917" width="167" height="25"/><text class="pl" x="1964" y="934.5">element</text><path class="chev" d="M2116.5 924.5 l4.5 5 l-4.5 5"/>
<rect class="pc" x="1959" y="943" width="167" height="25"/><text class="pl" x="1964" y="960.5">parameterName</text><path class="chev" d="M2116.5 950.5 l4.5 5 l-4.5 5"/>
<rect class="pc" x="1959" y="969" width="167" height="25"/><text class="pl" x="1964" y="986.5">value</text><path class="chev" d="M2116.5 976.5 l4.5 5 l-4.5 5"/>
<rect class="pc" x="2166" y="917" width="61" height="25"/><text class="pr" x="2223" y="934.5">Element</text>
<text class="au" x="2223" y="1012">AUTO</text>
<rect class="no" x="1959" y="890" width="268" height="129"/>
</g>

<!-- ===== Bottom-right group ===== -->
<g id="br-workset-all">
<rect class="nb" x="2347" y="1028" width="100" height="77"/>
<rect class="nh" x="2347" y="1028" width="100" height="27"/>
<text class="tt" x="2397" y="1046.5">Workset.All</text>
<rect class="pc" x="2386" y="1055" width="61" height="25"/><text class="pr" x="2443" y="1072.5">Workset</text>
<text class="au" x="2443" y="1097">AUTO</text>
<rect class="no" x="2347" y="1028" width="100" height="77"/>
</g>

<g id="br-workset-uniqueid">
<rect class="nb" x="2831" y="878" width="200" height="77"/>
<rect class="nh" x="2831" y="878" width="200" height="27"/>
<text class="tt" x="2931" y="896.5">Workset.UniqueId</text>
<rect class="pc" x="2831" y="905" width="115" height="25"/><text class="pl" x="2836" y="922.5">workset</text><path class="chev" d="M2936.5 912.5 l4.5 5 l-4.5 5"/>
<rect class="pc" x="2986" y="905" width="45" height="25"/><text class="pr" x="3027" y="922.5">string</text>
<text class="au" x="3027" y="947">AUTO</text>
<rect class="no" x="2831" y="878" width="200" height="77"/>
</g>

<g id="br-workset-id">
<rect class="nb" x="2548" y="1131" width="182" height="77"/>
<rect class="nh" x="2548" y="1131" width="182" height="27"/>
<text class="tt" x="2639" y="1149.5">Workset.Id</text>
<rect class="pc" x="2548" y="1158" width="115" height="25"/><text class="pl" x="2553" y="1175.5">workset</text><path class="chev" d="M2653.5 1165.5 l4.5 5 l-4.5 5"/>
<rect class="pc" x="2702" y="1158" width="28" height="25"/><text class="pr" x="2726" y="1175.5">int</text>
<text class="au" x="2726" y="1200">AUTO</text>
<rect class="no" x="2548" y="1131" width="182" height="77"/>
</g>

<g id="br-workset-byid">
<rect class="nb" x="2841" y="1253" width="179" height="77"/>
<rect class="nh" x="2841" y="1253" width="179" height="27"/>
<text class="tt" x="2930.5" y="1271.5">Workset.ById</text>
<rect class="pc" x="2841" y="1280" width="77" height="25"/><text class="pl" x="2846" y="1297.5">id</text><path class="chev" d="M2908.5 1287.5 l4.5 5 l-4.5 5"/>
<rect class="pc" x="2958" y="1280" width="62" height="25"/><text class="pr" x="3016" y="1297.5">Workset</text>
<text class="au" x="3016" y="1322">AUTO</text>
<rect class="no" x="2841" y="1253" width="179" height="77"/>
</g>

<g id="br-workset-name">
<rect class="nb" x="2548" y="1362" width="200" height="77"/>
<rect class="nh" x="2548" y="1362" width="200" height="27"/>
<text class="tt" x="2648" y="1380.5">Workset.Name</text>
<rect class="pc" x="2548" y="1389" width="115" height="25"/><text class="pl" x="2553" y="1406.5">workset</text><path class="chev" d="M2653.5 1396.5 l4.5 5 l-4.5 5"/>
<rect class="pc" x="2703" y="1389" width="45" height="25"/><text class="pr" x="2744" y="1406.5">string</text>
<text class="au" x="2744" y="1431">AUTO</text>
<rect class="no" x="2548" y="1362" width="200" height="77"/>
</g>

<g id="br-workset-byname">
<rect class="nb" x="2832" y="1471" width="203" height="77"/>
<rect class="nh" x="2832" y="1471" width="203" height="27"/>
<text class="tt" x="2933.5" y="1489.5">Workset.ByName</text>
<rect class="pc" x="2832" y="1498" width="101" height="25"/><text class="pl" x="2837" y="1515.5">name</text><path class="chev" d="M2923.5 1505.5 l4.5 5 l-4.5 5"/>
<rect class="pc" x="2974" y="1498" width="61" height="25"/><text class="pr" x="3031" y="1515.5">Workset</text>
<text class="au" x="3031" y="1540">AUTO</text>
<rect class="no" x="2832" y="1471" width="203" height="77"/>
</g>

<g id="br-watch-byname">
<rect class="nb" x="3130" y="1471" width="289" height="163"/>
<rect class="nh" x="3130" y="1471" width="289" height="27"/>
<text class="tt" x="3274.5" y="1489.5">Watch</text>
<rect class="pc" x="3130" y="1498" width="19" height="25"/><text class="gtl" x="3139.5" y="1514.5">&gt;</text>
<rect class="pc" x="3400" y="1498" width="19" height="25"/><text class="gtl" x="3409.5" y="1514.5">&gt;</text>
<rect class="wc" x="3136" y="1530" width="277" height="71"/>
<g clip-path="url(#c6)">
<text class="wv" x="3152" y="1543">List</text>
<line class="lt" x1="3152.5" y1="1547" x2="3152.5" y2="1591"/><circle cx="3152.5" cy="1592" r="2" fill="#a5a5a5"/>
<rect class="ib" x="3168" y="1547" width="20" height="12.5"/><text class="ix" x="3185" y="1557">0</text><text class="wv" x="3192" y="1557">Workset: Shell and Core 0</text>
<rect class="ib" x="3168" y="1562" width="20" height="12.5"/><text class="ix" x="3185" y="1572">1</text><text class="wv" x="3192" y="1572">Workset: Shared Levels and Grids 1</text>
<rect class="ib" x="3168" y="1577" width="20" height="12.5"/><text class="ix" x="3185" y="1587">2</text><text class="wv" x="3192" y="1587">Workset: Test 262</text>
</g>
<rect class="ft" x="3136" y="1603" width="277" height="26"/>
<text class="lv" x="3143" y="1619"><tspan class="at">@</tspan>L2 <tspan class="at">@</tspan>L1</text>
<text class="cnt" x="3405" y="1622">{<tspan class="red">3</tspan>}</text>
<rect class="no" x="3130" y="1471" width="289" height="163"/>
</g>

<g id="br-watch-name">
<rect class="nb" x="3130" y="1363" width="229" height="162"/>
<rect class="nh" x="3130" y="1363" width="229" height="27"/>
<text class="tt" x="3244.5" y="1381.5">Watch</text>
<rect class="pc" x="3130" y="1390" width="19" height="25"/><text class="gtl" x="3139.5" y="1406.5">&gt;</text>
<rect class="pc" x="3340" y="1390" width="19" height="25"/><text class="gtl" x="3349.5" y="1406.5">&gt;</text>
<rect class="wc" x="3135" y="1421" width="218" height="71"/>
<text class="wv" x="3152" y="1434">List</text>
<line class="lt" x1="3152.5" y1="1438" x2="3152.5" y2="1482"/><circle cx="3152.5" cy="1483" r="2" fill="#a5a5a5"/>
<rect class="ib" x="3168" y="1439" width="20" height="12.5"/><text class="ix" x="3185" y="1449">0</text><text class="wv" x="3192" y="1449">Shell and Core</text>
<rect class="ib" x="3168" y="1454" width="20" height="12.5"/><text class="ix" x="3185" y="1464">1</text><text class="wv" x="3192" y="1464">Shared Levels and Grids</text>
<rect class="ib" x="3168" y="1469" width="20" height="12.5"/><text class="ix" x="3185" y="1479">2</text><text class="wv" x="3192" y="1479">Test</text>
<rect class="ft" x="3135" y="1494" width="218" height="26"/>
<text class="lv" x="3143" y="1510"><tspan class="at">@</tspan>L2 <tspan class="at">@</tspan>L1</text>
<text class="cnt" x="3345" y="1513">{<tspan class="red">3</tspan>}</text>
<rect class="no" x="3130" y="1363" width="229" height="162"/>
</g>

<g id="br-watch-byid">
<rect class="nb" x="3130" y="1253" width="289" height="163"/>
<rect class="nh" x="3130" y="1253" width="289" height="27"/>
<text class="tt" x="3274.5" y="1271.5">Watch</text>
<rect class="pc" x="3130" y="1280" width="19" height="25"/><text class="gtl" x="3139.5" y="1296.5">&gt;</text>
<rect class="pc" x="3400" y="1280" width="19" height="25"/><text class="gtl" x="3409.5" y="1296.5">&gt;</text>
<rect class="wc" x="3136" y="1312" width="277" height="71"/>
<g clip-path="url(#c4)">
<text class="wv" x="3152" y="1328">List</text>
<line class="lt" x1="3152.5" y1="1332" x2="3152.5" y2="1376"/><circle cx="3152.5" cy="1377" r="2" fill="#a5a5a5"/>
<rect class="ib" x="3168" y="1332" width="20" height="12.5"/><text class="ix" x="3185" y="1342">0</text><text class="wv" x="3192" y="1342">Workset: Shell and Core 0</text>
<rect class="ib" x="3168" y="1347" width="20" height="12.5"/><text class="ix" x="3185" y="1357">1</text><text class="wv" x="3192" y="1357">Workset: Shared Levels and Grids 1</text>
<rect class="ib" x="3168" y="1362" width="20" height="12.5"/><text class="ix" x="3185" y="1372">2</text><text class="wv" x="3192" y="1372">Workset: Test 262</text>
</g>
<rect class="ft" x="3136" y="1385" width="277" height="26"/>
<text class="lv" x="3143" y="1401"><tspan class="at">@</tspan>L2 <tspan class="at">@</tspan>L1</text>
<text class="cnt" x="3405" y="1404">{<tspan class="red">3</tspan>}</text>
<rect class="no" x="3130" y="1253" width="289" height="163"/>
</g>

<g id="br-watch-all">
<rect class="nb" x="3129" y="993" width="290" height="162"/>
<rect class="nh" x="3129" y="993" width="290" height="27"/>
<text class="tt" x="3274" y="1011.5">Watch</text>
<rect class="pc" x="3129" y="1020" width="19" height="25"/><text class="gtl" x="3138.5" y="1036.5">&gt;</text>
<rect class="pc" x="3400" y="1020" width="19" height="25"/><text class="gtl" x="3409.5" y="1036.5">&gt;</text>
<rect class="wc" x="3135" y="1052" width="278" height="71"/>
<g clip-path="url(#c2)">
<text class="wv" x="3152" y="1067">List</text>
<line class="lt" x1="3152.5" y1="1071" x2="3152.5" y2="1115"/><circle cx="3152.5" cy="1116" r="2" fill="#a5a5a5"/>
<rect class="ib" x="3168" y="1071" width="20" height="12.5"/><text class="ix" x="3185" y="1081">0</text><text class="wv" x="3192" y="1081">Workset: Shell and Core 0</text>
<rect class="ib" x="3168" y="1086" width="20" height="12.5"/><text class="ix" x="3185" y="1096">1</text><text class="wv" x="3192" y="1096">Workset: Shared Levels and Grids 1</text>
<rect class="ib" x="3168" y="1101" width="20" height="12.5"/><text class="ix" x="3185" y="1111">2</text><text class="wv" x="3192" y="1111">Workset: Test 262</text>
</g>
<rect class="ft" x="3135" y="1124" width="278" height="26"/>
<text class="lv" x="3143" y="1140"><tspan class="at">@</tspan>L2 <tspan class="at">@</tspan>L1</text>
<text class="cnt" x="3405" y="1143">{<tspan class="red">3</tspan>}</text>
<rect class="no" x="3129" y="993" width="290" height="162"/>
</g>

<g id="br-watch-uniqueid">
<rect class="nb" x="3129" y="878" width="290" height="164"/>
<rect class="nh" x="3129" y="878" width="290" height="27"/>
<text class="tt" x="3274" y="896.5">Watch</text>
<rect class="pc" x="3129" y="905" width="19" height="25"/><text class="gtl" x="3138.5" y="921.5">&gt;</text>
<rect class="pc" x="3400" y="905" width="19" height="25"/><text class="gtl" x="3409.5" y="921.5">&gt;</text>
<rect class="wc" x="3135" y="937" width="278" height="71"/>
<g clip-path="url(#c1)">
<text class="wv" x="3152" y="953">List</text>
<line class="lt" x1="3152.5" y1="957" x2="3152.5" y2="998"/><circle cx="3152.5" cy="999" r="2" fill="#a5a5a5"/>
<rect class="ib" x="3168" y="958" width="20" height="12.5"/><text class="ix" x="3185" y="968">0</text><text class="wv" x="3192" y="968">771ca0ef-33f0-4d51-b029-5d2f2736a</text>
<rect class="ib" x="3168" y="973" width="20" height="12.5"/><text class="ix" x="3185" y="983">1</text><text class="wv" x="3192" y="983">b4e69bb0-69b2-437a-a01f-dc4167823</text>
<rect class="ib" x="3168" y="988" width="20" height="12.5"/><text class="ix" x="3185" y="998">2</text><text class="wv" x="3192" y="998">b26b4375-2f92-4c10-936c-f0dd77cdd</text>
</g>
<rect class="ft" x="3135" y="1010" width="278" height="26"/>
<text class="lv" x="3143" y="1026"><tspan class="at">@</tspan>L2 <tspan class="at">@</tspan>L1</text>
<text class="cnt" x="3405" y="1029">{<tspan class="red">3</tspan>}</text>
<rect class="no" x="3129" y="878" width="290" height="164"/>
</g>

<g id="br-watch-id">
<rect class="nb" x="3129" y="1131" width="99" height="163"/>
<rect class="nh" x="3129" y="1131" width="99" height="27"/>
<text class="tt" x="3178.5" y="1149.5">Watch</text>
<rect class="pc" x="3129" y="1158" width="19" height="25"/><text class="gtl" x="3138.5" y="1174.5">&gt;</text>
<rect class="pc" x="3209" y="1158" width="19" height="25"/><text class="gtl" x="3218.5" y="1174.5">&gt;</text>
<rect class="wc" x="3135" y="1190" width="87" height="71"/>
<text class="wv" x="3152" y="1206">List</text>
<line class="lt" x1="3152.5" y1="1210" x2="3152.5" y2="1254"/><circle cx="3152.5" cy="1255" r="2" fill="#a5a5a5"/>
<rect class="ib" x="3168" y="1210" width="20" height="12.5"/><text class="ix" x="3185" y="1220">0</text><text class="wv" x="3192" y="1220">0</text>
<rect class="ib" x="3168" y="1225" width="20" height="12.5"/><text class="ix" x="3185" y="1235">1</text><text class="wv" x="3192" y="1235">163</text>
<rect class="ib" x="3168" y="1240" width="20" height="12.5"/><text class="ix" x="3185" y="1250">2</text><text class="wv" x="3192" y="1250">262</text>
<rect class="ft" x="3135" y="1263" width="87" height="26"/>
<text class="lv" x="3139" y="1279"><tspan class="at">@</tspan>L2 <tspan class="at">@</tspan>L1</text>
<text class="cnt" x="3216" y="1282">{<tspan class="red">3</tspan>}</text>
<rect class="no" x="3129" y="1131" width="99" height="163"/>
</g>
</svg>
